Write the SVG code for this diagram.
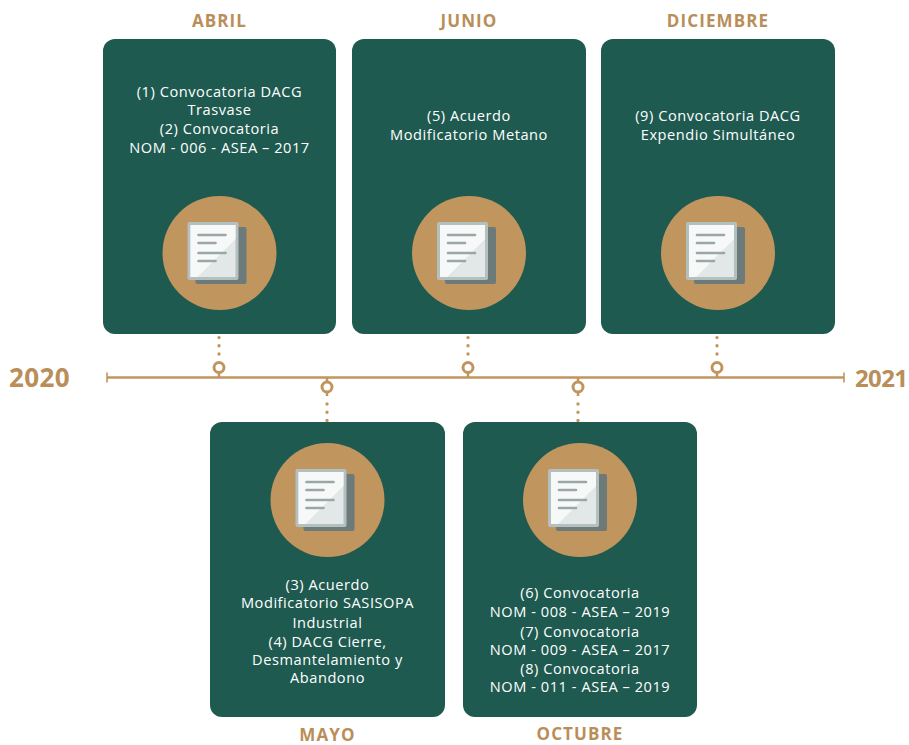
<svg xmlns="http://www.w3.org/2000/svg" xmlns:xlink="http://www.w3.org/1999/xlink" width="909" height="745" viewBox="0 0 909 745">
<style>
.box{fill:#1e5a4f}
.disc{fill:#c0955e}
.txt{font-family:"Open Sans","Liberation Sans",sans-serif;font-size:14.6px;fill:#ffffff;text-anchor:middle;letter-spacing:0.55px}
.month{font-family:"Open Sans","Liberation Sans",sans-serif;font-size:17px;font-weight:bold;fill:#b98e59;text-anchor:middle;letter-spacing:1.1px}
.year{font-family:"Open Sans","Liberation Sans",sans-serif;font-weight:bold;fill:#b98e59}
.line{stroke:#c0955e;stroke-width:2.5;fill:none}
.ring{stroke:#c0955e;stroke-width:3;fill:#ffffff}
.dots{stroke:#c0955e;stroke-width:3.4;stroke-linecap:round;stroke-dasharray:0 8.2;fill:none}
</style>
<defs>
<g id="doc">
<rect x="-24" y="-26" width="51" height="57" rx="2" fill="#6c7a79"/>
<rect x="-32" y="-31" width="51" height="58" rx="2" fill="#b4c0bf"/>
<rect x="-29" y="-28" width="45" height="52" fill="#e2e8e7"/>
<polygon points="-29,-28 16,-28 16,-14 -22,24 -29,24" fill="#f7f9f9"/>
<g stroke="#9ba7a6" stroke-width="2.6" stroke-linecap="round">
<line x1="-21" y1="-18" x2="6" y2="-18"/>
<line x1="-21" y1="-10" x2="-4" y2="-10"/>
<line x1="-21" y1="0" x2="6" y2="0"/>
<line x1="-21" y1="8" x2="-4" y2="8"/>
</g>
</g>
</defs>
<rect width="909" height="745" fill="#ffffff"/>

<g id="connectors">
<line class="line" x1="107" y1="377.5" x2="844" y2="377.5"/>
<line class="line" x1="107" y1="372.5" x2="107" y2="382.5" style="stroke-width:1.6"/>
<line class="line" x1="844" y1="372.5" x2="844" y2="382.5" style="stroke-width:1.6"/>
<path class="dots" d="M219 313 V355"/>
<path class="dots" d="M468 313 V355"/>
<path class="dots" d="M717 313 V355"/>
<path class="dots" d="M327 404 V440"/>
<path class="dots" d="M578 404 V440"/>
<g>
<line class="line" x1="219" y1="372" x2="219" y2="377"/>
<circle class="ring" cx="219" cy="367.5" r="5"/>
<line class="line" x1="468" y1="372" x2="468" y2="377"/>
<circle class="ring" cx="468" cy="367.5" r="5"/>
<line class="line" x1="717" y1="372" x2="717" y2="377"/>
<circle class="ring" cx="717" cy="367.5" r="5"/>
<line class="line" x1="327" y1="378" x2="327" y2="396"/>
<circle class="ring" cx="327" cy="387" r="5"/>
<line class="line" x1="578" y1="378" x2="578" y2="396"/>
<circle class="ring" cx="578" cy="387" r="5"/>
</g>
</g>

<text class="year" x="9" y="387" style="font-size:26px;letter-spacing:0.4px">2020</text>
<text class="year" x="855" y="387" style="font-size:24px;letter-spacing:-0.6px">2021</text>

<g id="abril">
<text class="month" x="219.5" y="27">ABRIL</text>
<rect class="box" x="103" y="39" width="233" height="295" rx="12"/>
<text class="txt" x="219.5" y="97">(1) Convocatoria DACG</text>
<text class="txt" x="219.5" y="115">Trasvase</text>
<text class="txt" x="219.5" y="134">(2) Convocatoria</text>
<text class="txt" x="219.5" y="153">NOM - 006 - ASEA – 2017</text>
<circle class="disc" cx="219.5" cy="253" r="57"/>
<use xlink:href="#doc" x="219.5" y="253"/>
</g>

<g id="junio">
<text class="month" x="469" y="27">JUNIO</text>
<rect class="box" x="352" y="39" width="234" height="295" rx="12"/>
<text class="txt" x="469" y="121">(5) Acuerdo</text>
<text class="txt" x="469" y="140">Modificatorio Metano</text>
<circle class="disc" cx="469" cy="253" r="57"/>
<use xlink:href="#doc" x="469" y="253"/>
</g>

<g id="diciembre">
<text class="month" x="718" y="27">DICIEMBRE</text>
<rect class="box" x="601" y="39" width="234" height="295" rx="12"/>
<text class="txt" x="718" y="121">(9) Convocatoria DACG</text>
<text class="txt" x="718" y="140">Expendio Simultáneo</text>
<circle class="disc" cx="718" cy="253" r="57"/>
<use xlink:href="#doc" x="718" y="253"/>
</g>

<g id="mayo">
<rect class="box" x="210" y="422" width="235" height="295" rx="12"/>
<circle class="disc" cx="327.5" cy="500" r="57"/>
<use xlink:href="#doc" x="327.5" y="500"/>
<text class="txt" x="327.5" y="590">(3) Acuerdo</text>
<text class="txt" x="327.5" y="608">Modificatorio SASISOPA</text>
<text class="txt" x="327.5" y="628">Industrial</text>
<text class="txt" x="327.5" y="647">(4) DACG Cierre,</text>
<text class="txt" x="327.5" y="665">Desmantelamiento y</text>
<text class="txt" x="327.5" y="683">Abandono</text>
<text class="month" x="327.5" y="741">MAYO</text>
</g>

<g id="octubre">
<rect class="box" x="463" y="422" width="234" height="295" rx="12"/>
<circle class="disc" cx="580" cy="500" r="57"/>
<use xlink:href="#doc" x="580" y="500"/>
<text class="txt" x="580" y="598">(6) Convocatoria</text>
<text class="txt" x="580" y="617">NOM - 008 - ASEA – 2019</text>
<text class="txt" x="580" y="637">(7) Convocatoria</text>
<text class="txt" x="580" y="655">NOM - 009 - ASEA – 2017</text>
<text class="txt" x="580" y="674">(8) Convocatoria</text>
<text class="txt" x="580" y="692">NOM - 011 - ASEA – 2019</text>
<text class="month" x="580" y="740">OCTUBRE</text>
</g>
</svg>
